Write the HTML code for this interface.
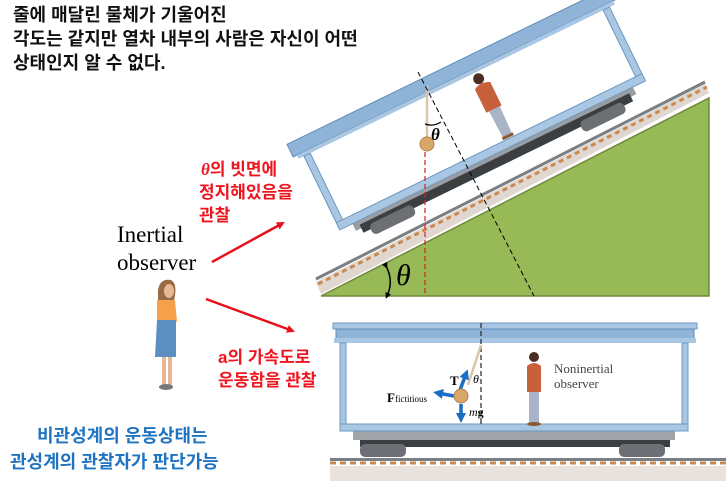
<!DOCTYPE html>
<html><head><meta charset="utf-8"><style>
html,body{margin:0;padding:0;background:#fff;width:726px;height:481px;overflow:hidden}
svg{display:block}
.kr{font-family:"Liberation Sans","Noto Sans CJK KR",sans-serif;font-weight:bold}
.sf{font-family:"Liberation Serif",serif}
</style></head><body>
<svg width="726" height="481" viewBox="0 0 726 481" xmlns="http://www.w3.org/2000/svg">
<defs>
<marker id="ra" markerWidth="8" markerHeight="8" refX="6" refY="4" orient="auto" markerUnits="userSpaceOnUse"><path d="M0,0 L8,4 L0,8 z" fill="#e8101a"/></marker>
<marker id="ba" markerWidth="10" markerHeight="10" refX="5" refY="5" orient="auto" markerUnits="userSpaceOnUse"><path d="M0,0 L10,5 L0,10 z" fill="#1a6cc4"/></marker>
<marker id="ka" markerWidth="6" markerHeight="6" refX="3" refY="3" orient="auto" markerUnits="userSpaceOnUse"><path d="M0,0 L6,3 L0,6 z" fill="#000"/></marker>
</defs>

<!-- top text -->
<text class="kr" font-size="18" fill="#111"><tspan x="13" y="21">줄에 매달린 물체가 기울어진</tspan><tspan x="13" y="45">각도는 같지만 열차 내부의 사람은 자신이 어떤</tspan><tspan x="13" y="69">상태인지 알 수 없다.</tspan></text>

<!-- incline -->
<polygon points="321,296 709,296 709,98" fill="#97b956" stroke="#6f8a3a" stroke-width="1.5"/>
<polygon points="316,282 705,84 709,93 321,294" fill="#e0d8d0"/>
<line x1="316" y1="279" x2="705" y2="82" stroke="#7a7f84" stroke-width="3"/>
<line x1="318" y1="284" x2="707" y2="87" stroke="#c88a50" stroke-width="3" stroke-dasharray="5,4"/>

<!-- tilted car -->
<g transform="translate(296,140) rotate(-26)">
  <rect x="14" y="100" width="312" height="8" fill="#9a9ea2"/>
  <rect x="20" y="104" width="300" height="9" fill="#3c3f42"/>
  <g fill="#6c7075"><rect x="28" y="108" width="48" height="12" rx="5"/><rect x="262" y="108" width="48" height="12" rx="5"/></g>
  <rect x="0" y="14" width="340" height="86" fill="#fff"/>
  <rect x="-10" y="0" width="360" height="14" fill="#8fb4d8" stroke="#5f8db8"/>
  <rect x="-6" y="14" width="352" height="4" fill="#a9c6e2"/>
  <rect x="0" y="18" width="7" height="80" fill="#a9c6e2" stroke="#6d98c0"/>
  <rect x="333" y="18" width="7" height="80" fill="#a9c6e2" stroke="#6d98c0"/>
  <rect x="0" y="92" width="340" height="8" fill="#a9c6e2" stroke="#6d98c0"/>
  <!-- man -->
  <g transform="translate(192,91)">
    <path d="M-5,-2 L-6,-32 L6,-32 L5,-2z" fill="#a9b4c8"/>
    <path d="M-9,-32 L-9,-58 Q-1,-63 8,-58 L8,-32z" fill="#c9603c"/>
    <circle cx="-1" cy="-66" r="5.5" fill="#4a2e22"/>
    <rect x="-6" y="-3" width="12" height="3" fill="#8a5a30"/>
  </g>
</g>
<!-- pendulum tilted -->
<line x1="427" y1="86" x2="427" y2="139" stroke="#d9c5a8" stroke-width="2.5"/>
<circle cx="427" cy="144" r="7" fill="#d7a868" stroke="#b0804a"/>
<line x1="425" y1="152" x2="425" y2="296" stroke="#d92020" stroke-width="1.2" stroke-dasharray="5,3"/>
<line x1="418" y1="72" x2="534" y2="296" stroke="#000" stroke-width="1" stroke-dasharray="5,3"/>
<path d="M425,124 Q433,127 441,122" fill="none" stroke="#000" stroke-width="1.3"/>
<text x="431" y="140" class="sf" font-size="17" font-style="italic" font-weight="bold">θ</text>
<path d="M386,266 Q394,281 387,296" fill="none" stroke="#000" stroke-width="1.5" marker-start="url(#ka)" marker-end="url(#ka)"/>
<text x="396" y="285" class="sf" font-size="30" font-style="italic">θ</text>

<!-- inertial observer -->
<text class="sf" font-size="23" fill="#000"><tspan x="117" y="242">Inertial</tspan><tspan x="117" y="270">observer</tspan></text>
<g>
  <path d="M158,290 Q160,278 171,280 Q178,284 174,300 L158,302z" fill="#9a6a44"/>
  <ellipse cx="169" cy="291" rx="5" ry="7" fill="#e6b896"/>
  <path d="M157,300 L175,300 L177,322 L157,322z" fill="#f5a04a"/>
  <path d="M157,320 L176,320 L176,357 L155,357z" fill="#5b8fc2"/>
  <rect x="162" y="357" width="4" height="28" fill="#e6b896"/>
  <rect x="168" y="357" width="4" height="28" fill="#e6b896"/>
  <ellipse cx="166" cy="387" rx="7" ry="3" fill="#777"/>
</g>
<line x1="212" y1="262" x2="283" y2="223" stroke="#e8101a" stroke-width="2.5" marker-end="url(#ra)"/>
<line x1="206" y1="299" x2="293" y2="331" stroke="#e8101a" stroke-width="2.5" marker-end="url(#ra)"/>
<text class="kr" font-size="17" fill="#f0141e"><tspan x="201" y="175"><tspan font-family="Liberation Serif" font-style="italic">θ</tspan>의 빗면에</tspan><tspan x="199" y="198">정지해있음을</tspan><tspan x="199" y="221">관찰</tspan></text>
<text class="kr" font-size="17" fill="#f0141e"><tspan x="218" y="363">a의 가속도로</tspan><tspan x="218" y="386">운동함을 관찰</tspan></text>
<text class="kr" font-size="18" fill="#1f74c2"><tspan x="37" y="442">비관성계의 운동상태는</tspan><tspan x="10" y="468">관성계의 관찰자가 판단가능</tspan></text>

<!-- bottom car -->
<rect x="330" y="466" width="396" height="15" fill="#e9e1dc"/>
<rect x="330" y="458" width="396" height="3" fill="#7a7f84"/>
<line x1="330" y1="463" x2="726" y2="463" stroke="#c88a50" stroke-width="3" stroke-dasharray="6,4"/>
<rect x="353" y="430" width="322" height="10" fill="#a0a4a8"/>
<rect x="360" y="440" width="310" height="7" fill="#3c3f42"/>
<g fill="#6c7075"><rect x="360" y="444" width="46" height="13" rx="5"/><rect x="619" y="444" width="46" height="13" rx="5"/></g>
<rect x="343" y="343" width="344" height="82" fill="#fff"/>
<rect x="333" y="323" width="364" height="6" fill="#a9c6e2" stroke="#6d98c0"/>
<rect x="336" y="329" width="358" height="10" fill="#8fb4d8" stroke="#5f8db8"/>
<rect x="334" y="338" width="362" height="5" fill="#a9c6e2"/>
<rect x="340" y="343" width="6" height="82" fill="#a9c6e2" stroke="#6d98c0"/>
<rect x="682" y="343" width="6" height="82" fill="#a9c6e2" stroke="#6d98c0"/>
<rect x="340" y="424" width="348" height="7" fill="#a9c6e2" stroke="#6d98c0"/>
<line x1="481" y1="323" x2="481" y2="425" stroke="#333" stroke-width="1.3" stroke-dasharray="5,3"/>
<line x1="481" y1="345" x2="468" y2="385" stroke="#d9c5a8" stroke-width="2.5"/>
<line x1="460" y1="390" x2="466" y2="374" stroke="#1a6cc4" stroke-width="3.5" marker-end="url(#ba)"/>
<line x1="454" y1="396" x2="438" y2="393" stroke="#1a6cc4" stroke-width="3.5" marker-end="url(#ba)"/>
<line x1="461" y1="404" x2="461" y2="418" stroke="#1a6cc4" stroke-width="3.5" marker-end="url(#ba)"/>
<circle cx="461" cy="396" r="7" fill="#d7a868" stroke="#b0804a"/>
<text x="450" y="385" class="sf" font-size="13" font-weight="bold">T</text>
<text x="473" y="383" class="sf" font-size="12" font-style="italic">θ</text>
<text x="387" y="402" class="sf" font-size="13" font-weight="bold">F<tspan font-size="9" font-weight="normal">fictitious</tspan></text>
<text x="469" y="416" class="sf" font-size="12" font-style="italic">m<tspan font-weight="bold" font-style="normal">g</tspan></text>
<g>
  <rect x="529" y="391" width="10" height="32" fill="#a9b4c8"/>
  <path d="M527,366 Q534,360 541,366 L541,392 L527,392z" fill="#c9603c"/>
  <circle cx="534" cy="357" r="5" fill="#4a2e22"/>
  <ellipse cx="534" cy="424" rx="7" ry="2" fill="#8a5a30"/>
</g>
<text class="sf" font-size="13" fill="#444"><tspan x="554" y="373">Noninertial</tspan><tspan x="554" y="388">observer</tspan></text>
</svg>
</body></html>
